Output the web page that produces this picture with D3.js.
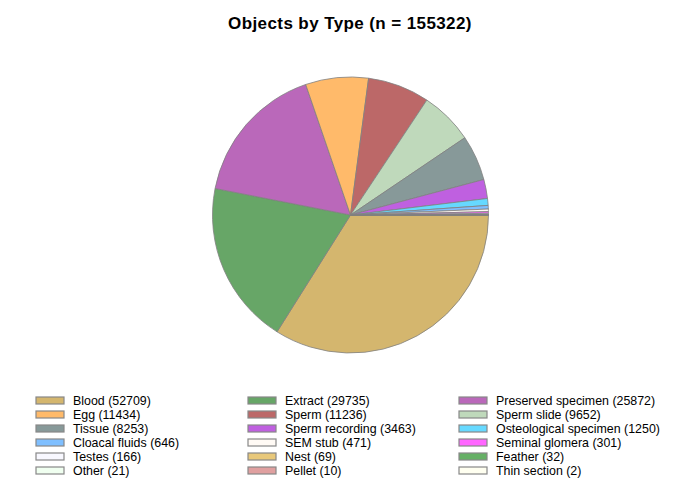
<!DOCTYPE html>
<html><head><meta charset="utf-8">
<script src="https://cdn.jsdelivr.net/npm/d3@7/dist/d3.min.js"></script>
<style>body{margin:0;background:#fff;} text{font-family:"Liberation Sans",Arial,sans-serif;}</style>
</head><body>
<svg id="c" width="700" height="489"></svg>
<script>
const categories = ["Blood","Extract","Preserved specimen","Egg","Sperm","Sperm slide","Tissue","Sperm recording","Osteological specimen","Cloacal fluids","SEM stub","Seminal glomera","Testes","Nest","Feather","Other","Pellet","Thin section"];
const counts = [52709,29735,25872,11434,11236,9652,8253,3463,1250,646,471,301,166,69,32,21,10,2];
const colors = ["#D4B66E","#67A667","#BA68BA","#FFBA6A","#BC6868","#BFD9BB","#879999","#BF60E0","#66D9FF","#7FBFFF","#FFFAF5","#FF66FF","#F8F8FF","#E8C87A","#66B066","#F0FFF0","#E0A0A0","#FFFFF0"];
const title = "Objects by Type (n = " + d3.sum(counts) + ")";

const svg = d3.select("#c");
svg.append("text").attr("x",350).attr("y",29).attr("text-anchor","middle")
  .attr("font-size",17).attr("font-weight","bold").attr("letter-spacing",0.4).attr("fill","#000").text(title);

const data = categories.map((c,i)=>({name:c,value:counts[i],color:colors[i]}));
const pie = d3.pie().value(d=>d.value).sort(null).startAngle(Math.PI/2).endAngle(Math.PI/2+2*Math.PI);
const arc = d3.arc().innerRadius(0).outerRadius(138);
const g = svg.append("g").attr("transform","translate(350.5,215)");
g.selectAll("path").data(pie(data)).join("path")
  .attr("d",arc).attr("fill",d=>d.data.color).attr("stroke","#808080").attr("stroke-width",0.8);

const colX = [36,248,459];
const leg = svg.append("g");
data.forEach((d,i)=>{
  const col = i%3, row = Math.floor(i/3);
  const x = colX[col], y = 397 + row*14;
  leg.append("rect").attr("x",x).attr("y",y).attr("width",28).attr("height",7)
    .attr("fill",d.color).attr("stroke","#888").attr("stroke-width",1.2);
  leg.append("text").attr("x",x+37).attr("y",y+7.5).attr("font-size",12.4).attr("fill","#000")
    .text(d.name+" ("+d.value+")");
});
</script>
</body></html>
